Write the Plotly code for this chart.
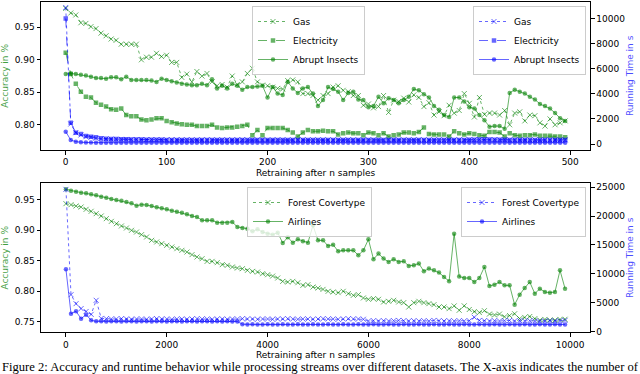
import plotly.graph_objects as go

# ---- top panel: retraining every 5 samples
top_x = list(range(0, 500, 5))

gas_acc = [
    0.979, 0.972, 0.969, 0.957, 0.956, 0.951, 0.948, 0.941, 0.937, 0.932,
    0.930, 0.924, 0.924, 0.924, 0.924, 0.900, 0.904, 0.904, 0.910, 0.905,
    0.907, 0.896, 0.896, 0.873, 0.878, 0.866, 0.882, 0.875, 0.879, 0.866,
    0.860, 0.862, 0.858, 0.875, 0.862, 0.866, 0.879, 0.887, 0.866, 0.861,
    0.860, 0.858, 0.856, 0.855, 0.868, 0.869, 0.866, 0.848, 0.848, 0.845,
    0.838, 0.845, 0.848, 0.858, 0.860, 0.853, 0.851, 0.845, 0.845, 0.830,
    0.832, 0.826, 0.828, 0.845, 0.819, 0.838, 0.836, 0.841, 0.835, 0.846,
    0.842, 0.828, 0.834, 0.815, 0.820, 0.814, 0.830, 0.818, 0.822, 0.848,
    0.833, 0.812, 0.842, 0.816, 0.818, 0.818, 0.815, 0.822, 0.800, 0.818,
    0.820, 0.806, 0.815, 0.814, 0.803, 0.798, 0.809, 0.800, 0.803, 0.806,
]
elec_acc = [
    0.911, 0.878, 0.863, 0.851, 0.843, 0.842, 0.834, 0.831, 0.828, 0.824,
    0.823, 0.825, 0.815, 0.813, 0.813, 0.808, 0.807, 0.808, 0.810, 0.810,
    0.806, 0.804, 0.802, 0.801, 0.800, 0.800, 0.798, 0.798, 0.798, 0.800,
    0.796, 0.795, 0.796, 0.796, 0.797, 0.798, 0.800, 0.784, 0.792, 0.784,
    0.795, 0.795, 0.795, 0.795, 0.792, 0.788, 0.782, 0.788, 0.792, 0.790,
    0.790, 0.791, 0.790, 0.790, 0.785, 0.787, 0.788, 0.787, 0.787, 0.784,
    0.788, 0.787, 0.784, 0.787, 0.782, 0.784, 0.785, 0.788, 0.788, 0.787,
    0.789, 0.796, 0.786, 0.785, 0.785, 0.785, 0.782, 0.790, 0.787, 0.785,
    0.787, 0.786, 0.784, 0.783, 0.789, 0.789, 0.788, 0.782, 0.787, 0.784,
    0.783, 0.784, 0.784, 0.785, 0.783, 0.783, 0.783, 0.782, 0.782, 0.781,
]
insects_acc = [
    0.878, 0.879, 0.878, 0.877, 0.876, 0.874, 0.872, 0.872, 0.871, 0.873,
    0.873, 0.870, 0.874, 0.869, 0.869, 0.869, 0.869, 0.868, 0.866, 0.871,
    0.869, 0.867, 0.865, 0.863, 0.862, 0.861, 0.861, 0.863, 0.861, 0.870,
    0.856, 0.860, 0.856, 0.863, 0.860, 0.854, 0.858, 0.858, 0.859, 0.860,
    0.842, 0.858, 0.848, 0.846, 0.866, 0.856, 0.849, 0.856, 0.858, 0.848,
    0.829, 0.838, 0.858, 0.855, 0.851, 0.838, 0.849, 0.851, 0.839, 0.838,
    0.827, 0.829, 0.843, 0.833, 0.841, 0.838, 0.833, 0.838, 0.843, 0.855,
    0.853, 0.847, 0.842, 0.829, 0.823, 0.815, 0.812, 0.842, 0.842, 0.836,
    0.827, 0.825, 0.815, 0.807, 0.797, 0.798, 0.798, 0.794, 0.849, 0.854,
    0.851, 0.848, 0.843, 0.839, 0.832, 0.829, 0.825, 0.818, 0.810, 0.806,
]
gas_time = [
    10865, 1590, 900, 715, 580, 530, 450, 420, 400, 390,
    380, 370, 365, 360, 360, 355, 350, 350, 345, 345,
    340, 345, 340, 335, 340, 335, 330, 335, 340, 335,
    330, 335, 330, 330, 335, 340, 335, 330, 335, 330,
    325, 330, 335, 330, 325, 330, 335, 330, 330, 325,
    330, 335, 330, 325, 330, 330, 335, 330, 325, 330,
    335, 330, 330, 325, 330, 335, 330, 325, 330, 335,
    340, 330, 325, 330, 335, 330, 325, 330, 335, 330,
    340, 345, 350, 345, 340, 345, 340, 335, 330, 325,
    330, 335, 330, 325, 330, 335, 330, 325, 330, 335,
]
elec_time = [
    9990, 1700, 900, 795, 640, 580, 530, 450, 420, 400,
    390, 380, 370, 365, 360, 350, 345, 340, 335, 330,
    320, 325, 320, 315, 320, 310, 315, 320, 315, 310,
    315, 320, 310, 315, 320, 315, 310, 320, 315, 310,
    315, 320, 315, 310, 315, 320, 310, 315, 320, 315,
    310, 315, 320, 315, 310, 320, 315, 310, 315, 320,
    315, 310, 315, 320, 315, 310, 315, 320, 315, 310,
    320, 315, 310, 315, 320, 315, 310, 315, 320, 315,
    330, 340, 350, 360, 350, 345, 340, 330, 320, 315,
    310, 315, 320, 315, 310, 315, 320, 315, 310, 315,
]
insects_time = [
    980, 320, 185, 130, 120, 110, 105, 100, 100, 95,
    100, 95, 100, 95, 100, 100, 95, 100, 95, 100,
    95, 100, 95, 100, 95, 100, 100, 95, 100, 95,
    100, 95, 100, 95, 100, 100, 95, 100, 95, 100,
    95, 100, 95, 100, 95, 100, 100, 95, 100, 95,
    100, 95, 100, 95, 100, 100, 95, 100, 95, 100,
    95, 100, 95, 100, 95, 100, 100, 95, 100, 95,
    100, 95, 100, 95, 100, 100, 95, 100, 95, 100,
    95, 100, 95, 100, 95, 100, 100, 95, 100, 95,
    100, 95, 100, 95, 100, 100, 95, 100, 95, 100,
]

# ---- bottom panel: retraining every 100 samples
bottom_x = list(range(0, 10000, 100))

forest_acc = [
    0.9435, 0.9418, 0.9397, 0.9380, 0.9342, 0.9310, 0.9271, 0.9233, 0.9189, 0.9145,
    0.9107, 0.9069, 0.9036, 0.8998, 0.8970, 0.8927, 0.8889, 0.8834, 0.8807, 0.8779,
    0.8752, 0.8725, 0.8697, 0.8670, 0.8642, 0.8599, 0.8561, 0.8533, 0.8489, 0.8489,
    0.8468, 0.8435, 0.8424, 0.8397, 0.8380, 0.8369, 0.8342, 0.8325, 0.8314, 0.8287,
    0.8270, 0.8248, 0.8216, 0.8161, 0.8150, 0.8161, 0.8139, 0.8096, 0.8107, 0.8068,
    0.8052, 0.8030, 0.7998, 0.7987, 0.7976, 0.7998, 0.7960, 0.7932, 0.7943, 0.7889,
    0.7867, 0.7878, 0.7867, 0.7823, 0.7834, 0.7850, 0.7823, 0.7812, 0.7741, 0.7812,
    0.7834, 0.7812, 0.7796, 0.7779, 0.7741, 0.7741, 0.7714, 0.7758, 0.7687, 0.7760,
    0.7700, 0.7665, 0.7650, 0.7680, 0.7625, 0.7610, 0.7625, 0.7580, 0.7600, 0.7630,
    0.7550, 0.7570, 0.7585, 0.7550, 0.7526, 0.7537, 0.7526, 0.7526, 0.7537, 0.7540,
]
airlines_acc = [
    0.9670, 0.9648, 0.9632, 0.9615, 0.9604, 0.9588, 0.9572, 0.9550, 0.9533, 0.9511,
    0.9495, 0.9484, 0.9462, 0.9440, 0.9402, 0.9419, 0.9413, 0.9397, 0.9375, 0.9358,
    0.9342, 0.9320, 0.9304, 0.9287, 0.9260, 0.9233, 0.9216, 0.9162, 0.9162, 0.9162,
    0.9124, 0.9124, 0.9124, 0.9135, 0.9053, 0.9036, 0.9025, 0.8981, 0.9014, 0.8970,
    0.8943, 0.8927, 0.8960, 0.8790, 0.8884, 0.8796, 0.8850, 0.8817, 0.8796, 0.9080,
    0.8834, 0.8834, 0.8741, 0.8763, 0.8654, 0.8670, 0.8670, 0.8670, 0.8589, 0.8670,
    0.8850, 0.8524, 0.8616, 0.8534, 0.8480, 0.8524, 0.8480, 0.8490, 0.8414, 0.8425,
    0.8452, 0.8327, 0.8371, 0.8343, 0.8305, 0.8234, 0.8163, 0.8943, 0.8240, 0.8216,
    0.8216, 0.8150, 0.8216, 0.8397, 0.8085, 0.8107, 0.8150, 0.8096, 0.8096, 0.7779,
    0.7943, 0.8053, 0.8150, 0.7960, 0.8042, 0.7987, 0.7976, 0.7987, 0.8342, 0.8042,
]
forest_time = [
    24625, 6400, 4850, 4000, 3500, 3000, 5430, 2300, 2250, 2200,
    2200, 2250, 2200, 2150, 2200, 2200, 2150, 2200, 2250, 2200,
    2200, 2150, 2200, 2200, 2150, 2200, 2250, 2200, 2200, 2150,
    2200, 2200, 2150, 2200, 2200, 2250, 2200, 2200, 2150, 2200,
    2200, 2150, 2200, 2200, 2250, 2200, 2150, 2200, 2200, 2150,
    2200, 2250, 2200, 2200, 2150, 2200, 2250, 2200, 2200, 2150,
    1850, 1900, 1850, 1900, 1850, 1900, 1950, 1900, 1850, 1900,
    1850, 1900, 1850, 1950, 1900, 1850, 1900, 1850, 1900, 1850,
    1900, 2500, 1950, 1900, 1850, 1900, 1850, 1900, 1950, 1850,
    1900, 1850, 1900, 1850, 1800, 1850, 1900, 1850, 1900, 1950,
]
airlines_time = [
    10790, 3120, 3530, 2255, 2950, 1970, 1800, 1800, 1750, 1800,
    1800, 1750, 1800, 1800, 1750, 1800, 1800, 1750, 1800, 1800,
    1750, 1800, 1800, 1750, 1800, 1800, 1750, 1800, 1800, 1750,
    1800, 1750, 1800, 1750, 1750, 1300, 1250, 1300, 1250, 1250,
    1300, 1250, 1250, 1300, 1250, 1250, 1300, 1250, 1250, 1300,
    1250, 1250, 1300, 1250, 1250, 1300, 1250, 1250, 1300, 1250,
    1250, 1300, 1250, 1250, 1300, 1250, 1250, 1300, 1250, 1250,
    1300, 1250, 1250, 1300, 1250, 1250, 1300, 1250, 1250, 1300,
    1250, 1250, 1300, 1250, 1250, 1300, 1250, 1250, 1300, 1250,
    1250, 1300, 1250, 1250, 1300, 1250, 1250, 1300, 1250, 1250,
]

CAPTION = ("Figure 2: Accuracy and runtime behavior while processing streams over "
           "different datasets. The X-axis indicates the number of")

GREEN = 'rgba(0,128,0,0.6)'
BLUE = 'rgba(0,0,255,0.6)'
FONT = 'DejaVu Sans, Arial, sans-serif'

# line style / marker per dataset, like the matplotlib ':x', '--s', '-o'
STYLES = {
    'Gas': ('dot', 'x-thin'),
    'Electricity': ('dash', 'square'),
    'Abrupt Insects': ('solid', 'circle'),
    'Forest Covertype': ('dot', 'x-thin'),
    'Airlines': ('solid', 'circle'),
}


def add_series(fig, x, y, name, color, xaxis, yaxis, legend):
    dash, symbol = STYLES[name]
    if symbol == 'x-thin':
        marker = dict(symbol=symbol, size=5, line=dict(color=color, width=1))
    else:
        marker = dict(symbol=symbol, size=4.5, color=color, line=dict(width=0))
    fig.add_trace(go.Scatter(x=x, y=y, name=name, mode='lines+markers',
                             line=dict(color=color, width=1, dash=dash),
                             marker=marker, xaxis=xaxis, yaxis=yaxis, legend=legend))


fig = go.Figure()

# top panel
for name, vals in [('Gas', gas_acc), ('Electricity', elec_acc), ('Abrupt Insects', insects_acc)]:
    add_series(fig, top_x, vals, name, GREEN, 'x', 'y', 'legend')
for name, vals in [('Gas', gas_time), ('Electricity', elec_time), ('Abrupt Insects', insects_time)]:
    add_series(fig, top_x, vals, name, BLUE, 'x', 'y2', 'legend2')

# bottom panel
for name, vals in [('Forest Covertype', forest_acc), ('Airlines', airlines_acc)]:
    add_series(fig, bottom_x, vals, name, GREEN, 'x2', 'y3', 'legend3')
for name, vals in [('Forest Covertype', forest_time), ('Airlines', airlines_time)]:
    add_series(fig, bottom_x, vals, name, BLUE, 'x2', 'y4', 'legend4')

X_DOM = [41 / 640, 590 / 640]
TOP_DOM = [1 - 150 / 374, 1 - 1.7 / 374]
BOT_DOM = [1 - 332.3 / 374, 1 - 183.3 / 374]

axis_common = dict(showline=True, linecolor='black', linewidth=1, ticks='outside',
                   ticklen=3.5, tickcolor='black', showgrid=False, zeroline=False,
                   tickfont=dict(size=9, color='black'), automargin=False)
title_font = dict(size=9, color='black')
green_title = dict(size=9, color='rgba(0,128,0,0.75)')
blue_title = dict(size=9, color='rgba(0,0,255,0.7)')

legend_common = dict(bgcolor='rgba(255,255,255,0.8)', bordercolor='#cccccc', borderwidth=1,
                     font=dict(size=9, color='black'), xanchor='right', yanchor='top',
                     tracegroupgap=0, traceorder='normal')

fig.update_layout(
    width=640, height=374, template='none',
    margin=dict(l=0, r=0, t=0, b=0),
    paper_bgcolor='white', plot_bgcolor='white',
    font=dict(family=FONT, size=9),
    xaxis=dict(domain=X_DOM, anchor='y', range=[-24.5, 519.6], tickvals=[0, 100, 200, 300, 400, 500],
               mirror=True, title=dict(text='Retraining after n samples', font=title_font, standoff=3),
               **axis_common),
    yaxis=dict(domain=TOP_DOM, anchor='x', range=[0.7612, 0.9894], tickvals=[0.80, 0.85, 0.90, 0.95],
               tickformat='.2f', mirror=True,
               title=dict(text='Accuracy in %', font=green_title, standoff=4), **axis_common),
    yaxis2=dict(overlaying='y', anchor='x', side='right', range=[-478, 11327],
                tickvals=[0, 2000, 4000, 6000, 8000, 10000], tickformat='d',
                title=dict(text='Running Time in s', font=blue_title, standoff=2), **axis_common),
    xaxis2=dict(domain=X_DOM, anchor='y3', range=[-495, 10395],
                tickvals=[0, 2000, 4000, 6000, 8000, 10000], tickformat='d', mirror=True,
                title=dict(text='Retraining after n samples', font=title_font, standoff=3),
                **axis_common),
    yaxis3=dict(domain=BOT_DOM, anchor='x2', range=[0.7326, 0.9769],
                tickvals=[0.75, 0.80, 0.85, 0.90, 0.95], tickformat='.2f', mirror=True,
                title=dict(text='Accuracy in %', font=green_title, standoff=4), **axis_common),
    yaxis4=dict(overlaying='y3', anchor='x2', side='right', range=[-104, 25673],
                tickvals=[0, 5000, 10000, 15000, 20000, 25000], tickformat='d',
                title=dict(text='Running Time in s', font=blue_title, standoff=2), **axis_common),
    legend=dict(x=365 / 640, y=1 - 6 / 374, **legend_common),
    legend2=dict(x=586 / 640, y=1 - 6 / 374, **legend_common),
    legend3=dict(x=372 / 640, y=1 - 187 / 374, **legend_common),
    legend4=dict(x=586 / 640, y=1 - 187 / 374, **legend_common),
    showlegend=True,
)

fig.add_annotation(text=CAPTION, xref='paper', yref='paper', x=0, y=1 - 358 / 374,
                   xanchor='left', yanchor='top', showarrow=False,
                   font=dict(family='Liberation Serif, Times New Roman, serif', size=12.6, color='black'))

# the page body has a default 8px margin; drop it so the figure sits at the window corner
fig.write_html("out.html", config={'displayModeBar': False},
               post_script="document.body.style.margin='0px';")
